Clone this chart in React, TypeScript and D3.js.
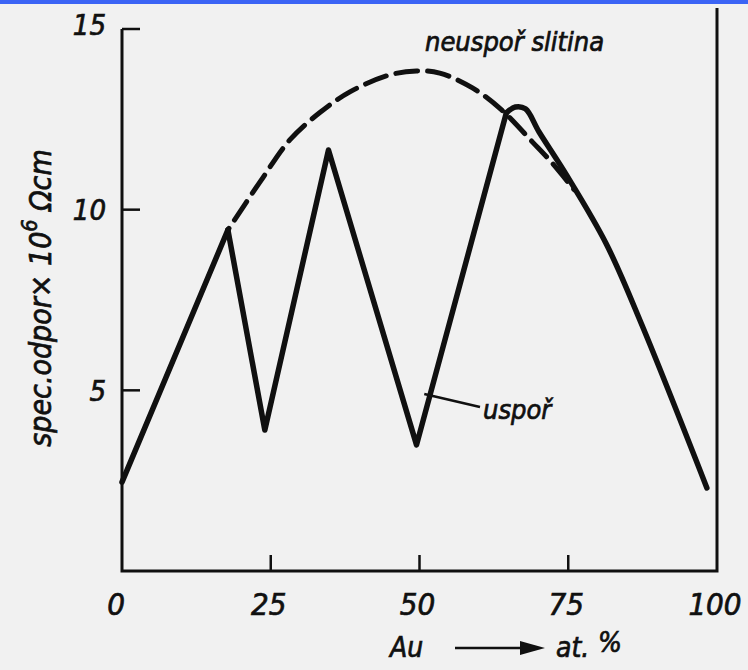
import * as d3 from "d3";

// composition (at. % Au)
const sharedX = [0, 17.8];
const sharedY = [2.46, 9.44];

// ordered alloy (usporadana) - zigzag part
const orderedX = [17.8, 24.0, 34.7, 49.5, 64.6];
const orderedY = [9.44, 3.9, 11.65, 3.49, 12.68];

// ordered alloy - rounded top and the falling tail
const tailX = [64.6, 66.1, 67.8, 70.1, 74.7, 81.4, 87.4, 98.3];
const tailY = [12.68, 12.84, 12.79, 12.15, 10.96, 9.05, 6.8, 2.3];

// disordered alloy (neusporadana slitina) - dashed
const disX = [17.8, 23.2, 28.2, 33.2, 38.3, 45.0, 49.5, 53.4, 58.9, 63.8, 69.0, 72.3, 76.0];
const disY = [9.44, 10.77, 11.93, 12.68, 13.26, 13.73, 13.84, 13.78, 13.37, 12.76, 11.87, 11.29, 10.55];

const xTicks = [0, 25, 50, 75, 100];
const yTicks = [5, 10, 15];

const W = 748;
const H = 670;
const font = "'DejaVu Sans Condensed', 'Liberation Sans', sans-serif";
const ink = "#101010";

export default function App() {
  const x = d3.scaleLinear().domain([0, 100]).range([122, 717]);
  const y = d3.scaleLinear().domain([0, 15]).range([571, 29]);

  const pts = (xs: number[], ys: number[]) => xs.map((v, i) => [v, ys[i]] as [number, number]);

  const straight = d3
    .line<[number, number]>()
    .x((d) => x(d[0]))
    .y((d) => y(d[1]));
  const smooth = d3
    .line<[number, number]>()
    .x((d) => x(d[0]))
    .y((d) => y(d[1]))
    .curve(d3.curveCatmullRom.alpha(0.5));

  const x0 = x(0);
  const y0 = y(0);
  const txt = { fontStyle: "italic", fill: ink, stroke: ink, strokeWidth: 0.7 };

  return (
    <svg width={W} height={H} style={{ position: "absolute", left: 0, top: 0 }} fontFamily={font}>
      <rect width={W} height={H} fill="#f1f1f1" />
      <rect width={W} height={4} fill="#3b64f5" />

      {/* frame: left axis, bottom axis, right line */}
      <path
        d={`M${x0},${y(15)} V${y0} H${x(100)} V8`}
        fill="none"
        stroke={ink}
        strokeWidth={3}
        strokeLinejoin="miter"
      />
      {yTicks.map((t) => (
        <line key={"yt" + t} x1={x0} x2={x0 + 18} y1={y(t)} y2={y(t)} stroke={ink} strokeWidth={2.5} />
      ))}
      {xTicks.slice(1, -1).map((t) => (
        <line key={"xt" + t} x1={x(t)} x2={x(t)} y1={y0} y2={y0 - 16} stroke={ink} strokeWidth={2.5} />
      ))}

      {/* tick labels */}
      {yTicks.map((t) => (
        <text key={"yl" + t} x={106} y={t === 15 ? y(t) - 4 : y(t)} dy="0.36em" textAnchor="end" fontSize={29} {...txt}>
          {t}
        </text>
      ))}
      {xTicks.map((t) => (
        <text key={"xl" + t} x={t === 0 ? x(t) - 6 : x(t) - 2} y={615} textAnchor="middle" fontSize={31} {...txt}>
          {t}
        </text>
      ))}

      {/* axis titles */}
      <g transform="translate(51,298) rotate(-90)">
        <text textAnchor="middle" fontSize={30} {...txt}>
          spec.odpor×{" "}
          <tspan>10</tspan>
          <tspan dy={-14} fontSize={21}>6</tspan>
          <tspan dy={14}> Ωcm</tspan>
        </text>
      </g>
      <text x={390} y={657} fontSize={28} {...txt}>
        Au
      </text>
      <line x1={455} x2={528} y1={648} y2={648} stroke={ink} strokeWidth={2.5} />
      <path d="M520,641 L545,648 L520,655 Z" fill={ink} />
      <text x={556} y={657} fontSize={28} {...txt}>
        at.
      </text>
      <text x={598} y={652} fontSize={28} {...txt}>
        %
      </text>

      {/* curves */}
      <path
        d={straight(pts(sharedX, sharedY)) ?? ""}
        fill="none"
        stroke={ink}
        strokeWidth={5.5}
        strokeLinecap="round"
        strokeLinejoin="round"
      />
      <path
        d={straight(pts(orderedX, orderedY)) ?? ""}
        fill="none"
        stroke={ink}
        strokeWidth={5.5}
        strokeLinecap="round"
        strokeLinejoin="round"
      />
      <path
        d={smooth(pts(tailX, tailY)) ?? ""}
        fill="none"
        stroke={ink}
        strokeWidth={5.5}
        strokeLinecap="round"
        strokeLinejoin="round"
      />
      <path
        d={smooth(pts(disX, disY)) ?? ""}
        fill="none"
        stroke={ink}
        strokeWidth={5}
        strokeDasharray="22 10"
        strokeDashoffset={-12}
        strokeLinecap="round"
      />

      {/* curve labels */}
      <text x={425} y={51} fontSize={27} {...txt}>
        neuspoř slitina
      </text>
      <line x1={x(50.8)} y1={y(4.9)} x2={480} y2={407} stroke={ink} strokeWidth={2.5} />
      <text x={483} y={419} fontSize={27} {...txt}>
        uspoř
      </text>
    </svg>
  );
}
